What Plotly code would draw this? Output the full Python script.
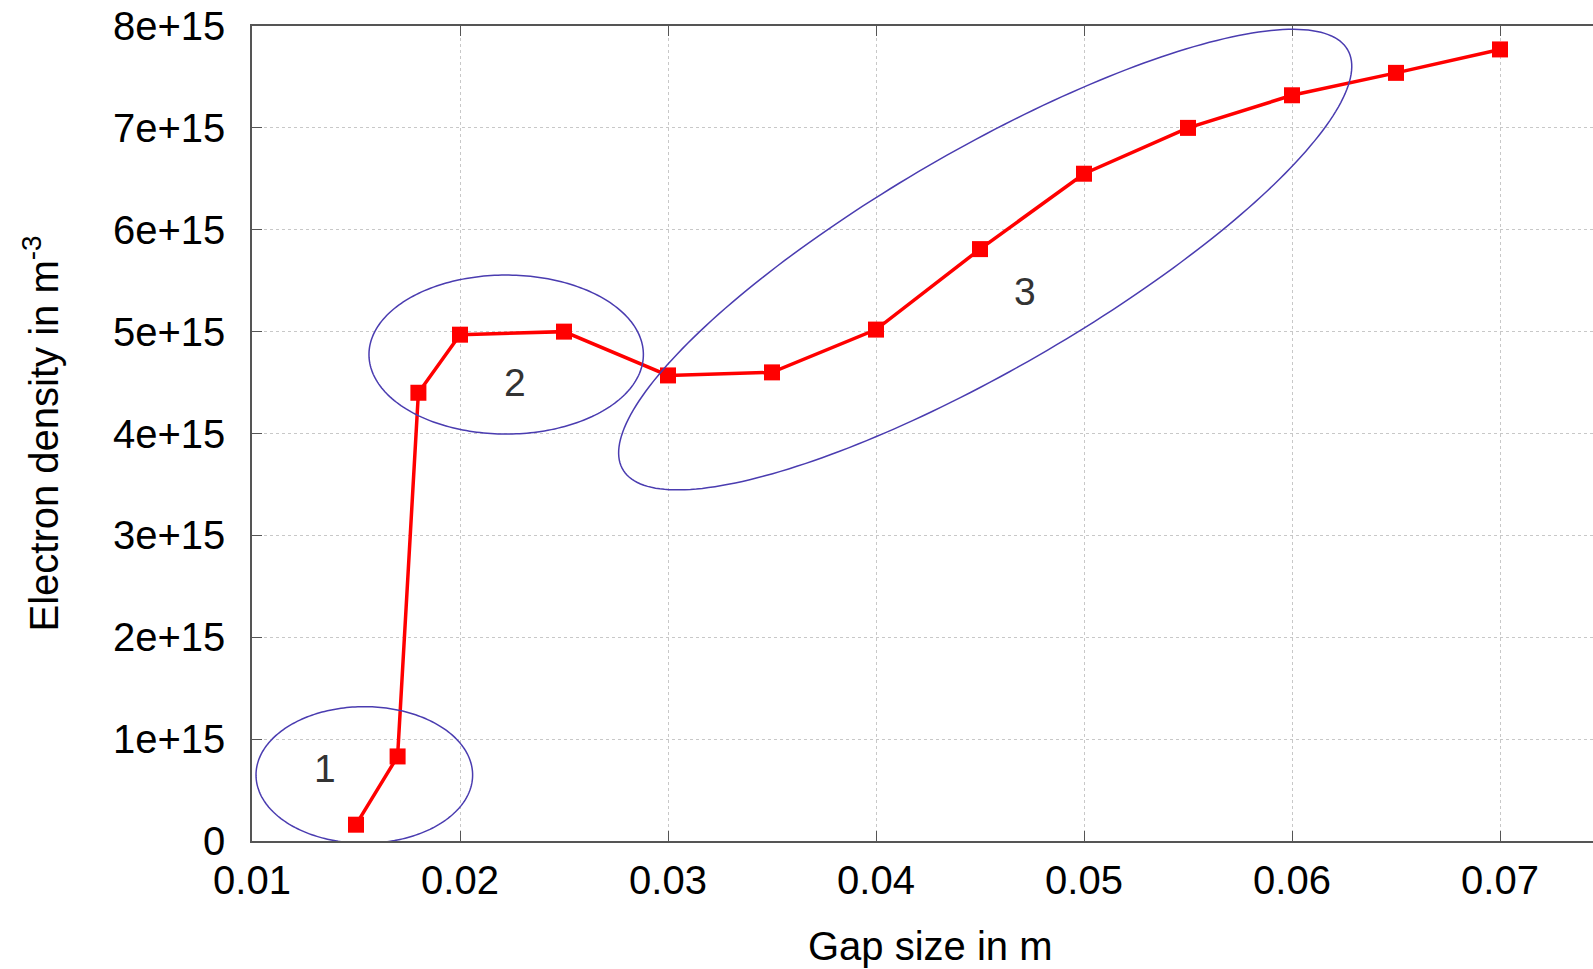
import numpy as np
import plotly.graph_objects as go

# Measured electron density against gap size
gap_m = [0.015, 0.017, 0.018, 0.020, 0.025, 0.030, 0.035, 0.040,
         0.045, 0.050, 0.055, 0.060, 0.065, 0.070]
density = [1.6e14, 8.3e14, 4.40e15, 4.97e15, 5.00e15, 4.57e15, 4.60e15,
           5.02e15, 5.81e15, 6.55e15, 7.00e15, 7.32e15, 7.54e15, 7.77e15]

x_ticks = [0.01, 0.02, 0.03, 0.04, 0.05, 0.06, 0.07]
x_tick_text = ["0.01", "0.02", "0.03", "0.04", "0.05", "0.06", "0.07"]
y_ticks = [0, 1e15, 2e15, 3e15, 4e15, 5e15, 6e15, 7e15, 8e15]
y_tick_text = ["0", "1e+15", "2e+15", "3e+15", "4e+15", "5e+15",
               "6e+15", "7e+15", "8e+15"]

# Regime labels
region_names = ["1", "2", "3"]
region_x = [0.01349, 0.02266, 0.04718]
region_y = [0.714e15, 4.499e15, 5.392e15]

# Regime outlines: centre (data), semi-axes (pixels), rotation (deg)
ell_cx = [0.0154, 0.02222, 0.04525]
ell_cy = [0.648e15, 4.775e15, 5.707e15]
ell_a_px = [108.3, 137.2, 418.8]
ell_b_px = [68.3, 79.5, 109.6]
ell_rot = [0.0, 0.0, 30.07]

W, H = 1593, 969
M_L, M_R, M_T, M_B = 252, 0, 26, 128
X_RANGE = [0.01, 0.01 + (W - M_L - M_R) / 20800.0]
Y_RANGE = [0, 8e15]
FONT = "Liberation Sans, Arial, sans-serif"
FS = 40

px_per_x = (W - M_L - M_R) / (X_RANGE[1] - X_RANGE[0])
px_per_y = (H - M_T - M_B) / (Y_RANGE[1] - Y_RANGE[0])


def ellipse_path(cx, cy, a, b, rot_deg, n=240):
    t = np.linspace(0, 2 * np.pi, n)
    th = np.radians(rot_deg)
    dx = a * np.cos(t) * np.cos(th) - b * np.sin(t) * np.sin(th)
    dy = a * np.cos(t) * np.sin(th) + b * np.sin(t) * np.cos(th)
    xs = cx + dx / px_per_x
    ys = cy + dy / px_per_y
    pts = [f"{x:.7f},{y:.6e}" for x, y in zip(xs, ys)]
    return "M" + " L".join(pts) + " Z"


fig = go.Figure()

fig.add_trace(go.Scatter(
    x=gap_m, y=density, mode="lines+markers",
    line=dict(color="#ff0000", width=3.5),
    marker=dict(symbol="square", size=16, color="#ff0000"),
    showlegend=False,
))

for cx, cy, a, b, r in zip(ell_cx, ell_cy, ell_a_px, ell_b_px, ell_rot):
    fig.add_shape(type="path", xref="x", yref="y",
                  path=ellipse_path(cx, cy, a, b, r),
                  line=dict(color="#4a3cb0", width=1.5))

for name, x, y in zip(region_names, region_x, region_y):
    fig.add_annotation(x=x, y=y, xref="x", yref="y", text=name,
                       showarrow=False, font=dict(family=FONT, size=FS - 1, color="#333333"))

# Axis titles placed in pixel terms relative to the plot area
fig.add_annotation(x=(931 - M_L) / (W - M_L - M_R), y=-(946 - (H - M_B)) / (H - M_T - M_B),
                   xref="paper", yref="paper",
                   text="Gap size in m", showarrow=False, xanchor="center", yanchor="middle",
                   font=dict(family=FONT, size=FS, color="#000000"))
fig.add_annotation(x=-(M_L - 41) / (W - M_L - M_R), y=0.5, xref="paper", yref="paper",
                   text="Electron density in m<sup>-3</sup>", textangle=-90,
                   showarrow=False, xanchor="center", yanchor="middle",
                   font=dict(family=FONT, size=FS, color="#000000"))

axis_common = dict(
    showgrid=True, gridcolor="#c8c8c8", gridwidth=1, griddash="dot",
    zeroline=False, showline=True, linecolor="#555555", linewidth=1.5,
    ticks="inside", ticklen=10, tickcolor="#555555", tickwidth=1,
    tickfont=dict(family=FONT, size=FS, color="#000000"),
)

fig.update_xaxes(range=X_RANGE, tickvals=x_ticks, ticktext=x_tick_text,
                 mirror="ticks", ticklabelstandoff=3, **axis_common)
fig.update_yaxes(range=Y_RANGE, tickvals=y_ticks, ticktext=y_tick_text,
                 mirror=False, ticklabelstandoff=17, **axis_common)

fig.update_layout(
    width=W, height=H,
    margin=dict(l=M_L, r=M_R, t=M_T, b=M_B),
    paper_bgcolor="white", plot_bgcolor="white",
    font=dict(family=FONT, size=FS, color="#000000"),
)

fig.write_html("out.html")
